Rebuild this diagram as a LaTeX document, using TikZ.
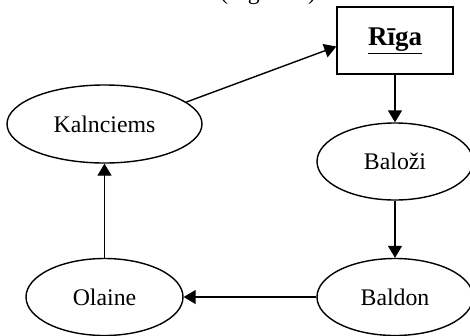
\documentclass[tikz,border=0pt]{standalone}
\usepackage{fontspec}
\setmainfont{Liberation Serif}
\usetikzlibrary{arrows.meta,shapes.geometric}
\begin{document}
\begin{tikzpicture}[x=1pt,y=-1pt,
  lbl/.style={font=\fontsize{23.8}{28}\selectfont},
  town/.style={lbl,draw,line width=1.4pt,ellipse,inner sep=0pt},
  capital/.style={font=\fontsize{27}{32}\selectfont\bfseries,draw,line width=1.4pt,rectangle,inner sep=0pt,minimum width=116pt,minimum height=67pt},
  link/.style={line width=1.4pt,-{Triangle[length=12pt,width=14pt]}}]
  \useasboundingbox (0,0) rectangle (470,335);
  \clip (0,0) rectangle (470,335);
  % caption, its baseline sits on the top edge
  \node[lbl,anchor=base] (cap) at (268,-0.3) {(Figure 1)};
  % stations
  \node[capital] (riga) at (395,40.5) {\underline{Rīga}};
  \node[town,minimum width=156pt,minimum height=77pt] (balozi) at (395,161.5) {Baloži};
  \node[town,minimum width=156pt,minimum height=77pt] (baldon) at (395,297) {Baldon};
  \node[town,minimum width=157pt,minimum height=77pt] (olaine) at (104.5,297) {Olaine};
  \node[town,minimum width=195pt,minimum height=78pt] (kaln) at (104.5,124) {Kalnciems};
  % route
  \draw[link] (riga) -- (balozi);
  \draw[link] (balozi) -- (baldon);
  \draw[link] (baldon) -- (olaine);
  \draw[link] (olaine) -- (kaln);
  \draw[link] (kaln.15) -- ([yshift=-6pt]riga.west);
\end{tikzpicture}
\end{document}
